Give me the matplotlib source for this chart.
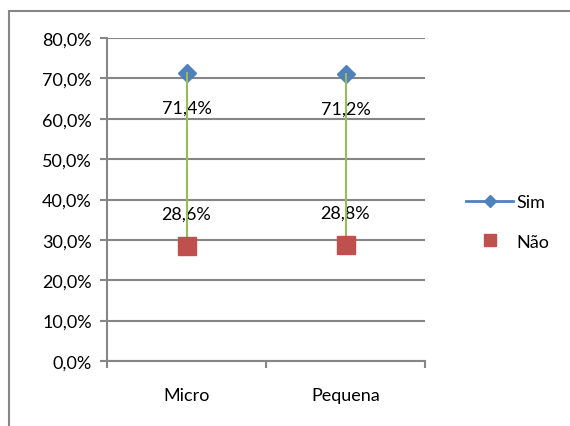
import matplotlib.pyplot as plt
from matplotlib.patches import Rectangle

categories = ["Micro", "Pequena"]
sim = [71.4, 71.2]
nao = [28.6, 28.8]
yticks = [0, 10, 20, 30, 40, 50, 60, 70, 80]

plt.rcParams['font.family'] = ['Lato', 'DejaVu Sans']
grey = '#868686'
fs = 13

fig = plt.figure(figsize=(5.7, 4.27), dpi=100)
ax = fig.add_axes([107/570, 1 - 362/427, 318/570, 323/427])

x = list(range(len(categories)))

# high-low lines between the two series
for xi, s, n in zip(x, sim, nao):
    ax.plot([xi, xi], [s, n], color='#9BBB59', lw=1.5, zorder=4)

ax.plot(x, sim, ls='none', marker='D', ms=9, color='#4F81BD', label='Sim', zorder=3)
ax.plot(x, nao, ls='none', marker='s', ms=13.5, color='#C0504D', label='Não', zorder=5)

for xi, s, n in zip(x, sim, nao):
    ax.annotate(f"{s:.1f}%".replace('.', ','), (xi, s), xytext=(0, -25),
                textcoords='offset points', ha='center', va='center', fontsize=fs)
    ax.annotate(f"{n:.1f}%".replace('.', ','), (xi, n), xytext=(0, 23),
                textcoords='offset points', ha='center', va='center', fontsize=fs)

ax.set_xlim(-0.5, len(categories) - 0.5)
ax.set_ylim(0, 80)
ax.set_yticks(yticks)
ax.set_yticklabels([f"{v:.1f}%".replace('.', ',') for v in yticks], fontsize=fs)
ax.set_xticks([-0.5, 0.5, 1.5], minor=False)
ax.set_xticklabels([])
ax.set_xticks(x, minor=True)
ax.set_xticklabels(categories, minor=True, fontsize=fs)
ax.tick_params(axis='x', which='minor', length=0, pad=19)
ax.tick_params(axis='x', which='major', length=5, width=1.5, color=grey, direction='out')
ax.tick_params(axis='y', length=5, width=1.5, color=grey, direction='out', pad=6)

ax.grid(axis='y', color=grey, lw=1.5)
ax.set_axisbelow(True)
for side in ['top', 'right']:
    ax.spines[side].set_visible(False)
for side in ['left', 'bottom']:
    ax.spines[side].set_color(grey)
    ax.spines[side].set_linewidth(1.5)

handles = [
    plt.Line2D([], [], color='#4F81BD', lw=2, marker='D', ms=6),
    plt.Line2D([], [], ls='none', color='#C0504D', marker='s', ms=8),
]
fig.legend(handles, ['Sim', 'Não'], loc='center left', bbox_to_anchor=(450/570, 1 - 223/427),
           frameon=False, fontsize=fs, handlelength=2.6, handletextpad=0.2, labelspacing=1.3)

# chart area border
fig.patches.append(Rectangle((9/570, -0.1), 1.2, 1 - 12/427 + 0.1, transform=fig.transFigure,
                             fill=False, edgecolor=grey, lw=1.5))

fig.savefig('out.png', dpi=100)
